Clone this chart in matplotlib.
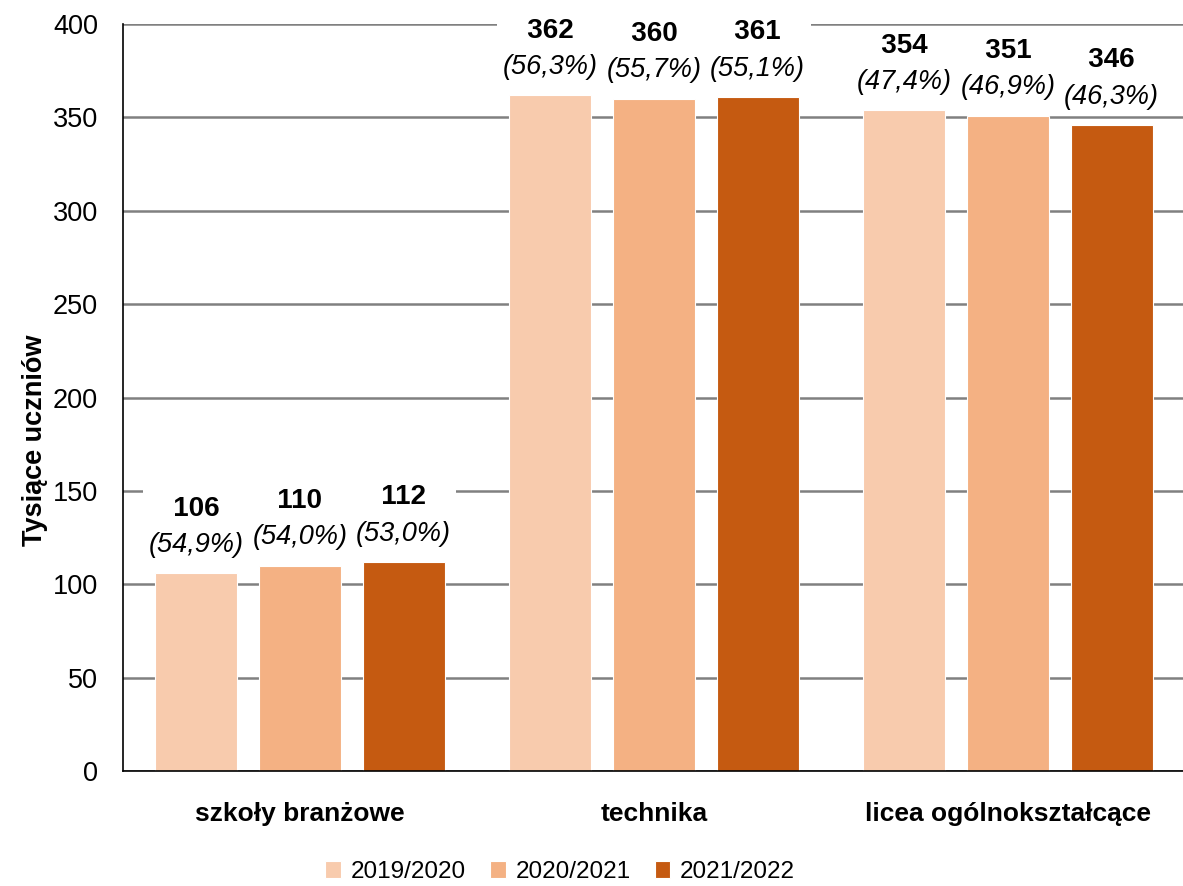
import numpy as np
import matplotlib
matplotlib.use("Agg")
import matplotlib.pyplot as plt

plt.rcParams['font.family'] = ['Liberation Sans Narrow', 'Liberation Sans', 'DejaVu Sans']

categories = ["szkoły branżowe", "technika", "licea ogólnokształcące"]
years = ["2019/2020", "2020/2021", "2021/2022"]
values = [
    [106, 362, 354],
    [110, 360, 351],
    [112, 361, 346],
]
shares = [
    ["54,9%", "56,3%", "47,4%"],
    ["54,0%", "55,7%", "46,9%"],
    ["53,0%", "55,1%", "46,3%"],
]
colors = ["#F8CBAD", "#F4B183", "#C55A11"]

fig = plt.figure(figsize=(11.83, 8.86), dpi=100)
ax = fig.add_axes([123 / 1183, 1 - 771 / 886, 1062 / 1183, 747 / 886])

x = np.arange(len(categories))
step = 0.293
width = 0.232
for i, year in enumerate(years):
    pos = x + (i - 1) * step
    ax.bar(pos, values[i], width, color=colors[i], edgecolor="white",
           linewidth=0.8, label=year, zorder=2)
    for xp, v, s in zip(pos, values[i], shares[i]):
        ax.annotate(f"({s})", (xp, v), xytext=(0, 11), textcoords="offset points",
                    ha="center", va="bottom", fontsize=19.5, style="italic", zorder=4,
                    bbox=dict(boxstyle="square,pad=0.25", fc="white", ec="none"))
        # spaces widen the white box so the gridline is hidden across the label
        ax.annotate(f"   {v}   ", (xp, v), xytext=(0, 37), textcoords="offset points",
                    ha="center", va="bottom", fontsize=20, fontweight="bold", zorder=4,
                    bbox=dict(boxstyle="square,pad=0.25", fc="white", ec="none"))

ax.set_xlim(-0.5, 2.5)
ax.set_ylim(0, 400)
ax.set_yticks(range(0, 401, 50))
ax.yaxis.grid(True, color="#808080", linewidth=1.8, zorder=0)
ax.set_axisbelow(True)
ax.tick_params(axis="y", length=0, labelsize=19.5, pad=18)
ax.tick_params(axis="x", length=0, labelsize=19, pad=22)
ax.set_xticks(x)
ax.set_xticklabels(categories, fontweight="bold")
for sp in ["top", "right"]:
    ax.spines[sp].set_visible(False)
ax.spines["left"].set_linewidth(1.2)
ax.spines["bottom"].set_linewidth(1.2)

fig.text(35 / 1183, 1 - 440 / 886, "Tysiące uczniów", rotation=90, ha="center",
         va="center", fontsize=19.5, fontweight="bold")

fig.legend(loc="center", bbox_to_anchor=(560 / 1183, 1 - 872 / 886), ncol=3,
           frameon=False, fontsize=17.5, handlelength=0.65, handleheight=0.65,
           handletextpad=0.4, columnspacing=1.0)

fig.savefig("out.png", dpi=100)
